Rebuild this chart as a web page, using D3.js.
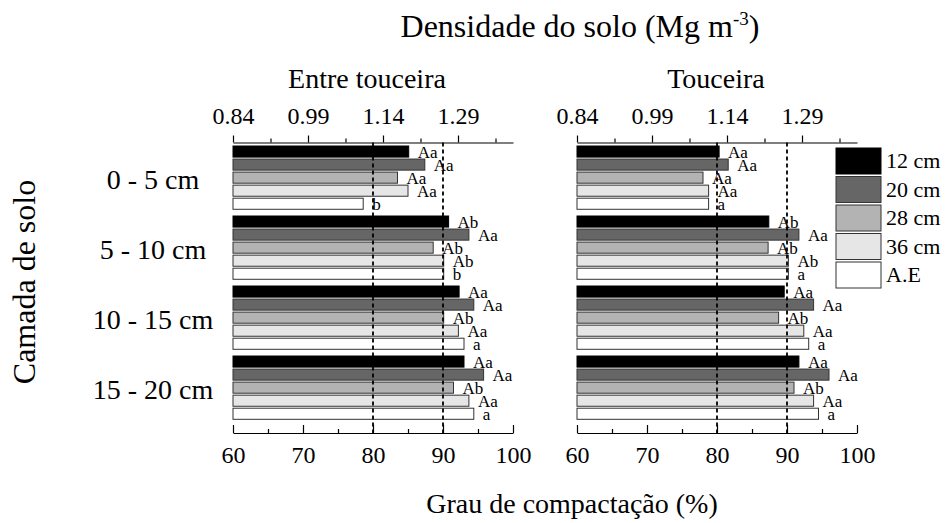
<!DOCTYPE html>
<html>
<head>
<meta charset="utf-8">
<script src="https://cdn.jsdelivr.net/npm/d3@7"></script>
<style>
  body { margin: 0; background: #fff; }
  svg text { font-family: "Liberation Serif", "Times New Roman", serif; fill: #000; }
</style>
</head>
<body>
<div id="chart"></div>
<script>
// camadas de solo e tratamentos
const camadas = ['0 - 5 cm', '5 - 10 cm', '10 - 15 cm', '15 - 20 cm'];
const tratamentos = ['12 cm', '20 cm', '28 cm', '36 cm', 'A.E'];
const cores = ['#000000', '#666666', '#b3b3b3', '#e6e6e6', '#ffffff'];

// grau de compactacao (%) por camada -> tratamento
const gcEntre = [
  [85.1, 87.4, 83.5, 85.0, 78.6],
  [90.8, 93.7, 88.6, 90.1, 90.1],
  [92.3, 94.4, 90.1, 92.2, 93.0],
  [93.0, 95.8, 91.5, 93.7, 94.4]
];
const gcTouceira = [
  [80.3, 81.6, 78.0, 78.8, 78.8],
  [87.4, 91.7, 87.3, 90.2, 90.2],
  [89.6, 93.8, 88.8, 92.4, 93.1],
  [91.7, 96.0, 91.0, 93.8, 94.5]
];
// letras do teste de medias
const letrasEntre = [
  ['Aa', 'Aa', 'Aa', 'Aa', 'b'],
  ['Ab', 'Aa', 'Ab', 'Ab', 'b'],
  ['Aa', 'Aa', 'Ab', 'Aa', 'a'],
  ['Aa', 'Aa', 'Ab', 'Aa', 'a']
];
const letrasTouceira = [
  ['Aa', 'Aa', 'Aa', 'Aa', 'a'],
  ['Ab', 'Aa', 'Ab', 'Ab', 'a'],
  ['Aa', 'Aa', 'Ab', 'Aa', 'a'],
  ['Aa', 'Aa', 'Ab', 'Aa', 'a']
];

const gcTicks = [60, 70, 80, 90, 100];
const gcMinor = [65, 75, 85, 95];
const densTicks = [0.84, 0.99, 1.14, 1.29];
const densMinor = [0.915, 1.065, 1.215, 1.365];
const linhasRef = [80, 90];

const w = 945, h = 523;
const yTop = 142.5, yBottom = 433;

const svg = d3.select('#chart').append('svg')
  .attr('width', w).attr('height', h);

const yGroup = d3.scaleBand().domain(camadas).range([146, 419.3]).paddingInner(0.096);
const yBar = d3.scaleBand().domain(tratamentos).range([0, yGroup.bandwidth()]).paddingInner(0.15);

const drawPanel = (x0, x1, values, letras, titulo, tx) => {
  const x = d3.scaleLinear().domain([60, 100]).range([x0, x1]);
  const xd = d3.scaleLinear().domain([0.84, 1.40]).range([x0, x1]);

  const g = svg.append('g');

  // barras
  camadas.forEach((c, i) => {
    const gg = g.append('g').attr('transform', 'translate(0,' + yGroup(c) + ')');
    gg.selectAll('rect')
      .data(values[i])
      .enter()
      .append('rect')
      .attr('x', x(60))
      .attr('y', (d, j) => yBar(tratamentos[j]))
      .attr('width', d => x(d) - x(60))
      .attr('height', yBar.bandwidth())
      .attr('fill', (d, j) => cores[j])
      .attr('stroke', (d, j) => j == 0 ? '#000' : '#333')
      .attr('stroke-width', 1);
    gg.selectAll('text')
      .data(values[i])
      .enter()
      .append('text')
      .attr('x', d => x(d) + 9)
      .attr('y', (d, j) => yBar(tratamentos[j]) + yBar.bandwidth() + 1)
      .attr('font-size', 17)
      .text((d, j) => letras[i][j]);
  });

  // linhas tracejadas
  g.selectAll('line.ref')
    .data(linhasRef)
    .enter()
    .append('line')
    .attr('class', 'ref')
    .attr('x1', d => x(d)).attr('x2', d => x(d))
    .attr('y1', yTop).attr('y2', yBottom)
    .attr('stroke', '#000')
    .attr('stroke-width', 1.8)
    .attr('stroke-dasharray', '4,3');

  // eixo inferior
  const axB = g.append('g')
    .attr('transform', 'translate(0,' + yBottom + ')')
    .call(d3.axisBottom(x).tickValues(gcTicks).tickSizeInner(-8).tickSizeOuter(0).tickPadding(13));
  g.append('g')
    .attr('transform', 'translate(0,' + yBottom + ')')
    .call(d3.axisBottom(x).tickValues(gcMinor).tickSizeInner(-4).tickSizeOuter(0).tickFormat(''))
    .select('.domain').remove();
  axB.selectAll('text').attr('font-size', 24);

  // eixo superior (densidade)
  const axT = g.append('g')
    .attr('transform', 'translate(0,' + yTop + ')')
    .call(d3.axisTop(xd).tickValues(densTicks).tickSizeInner(7).tickSizeOuter(0).tickPadding(12).tickFormat(d3.format('.2f')));
  g.append('g')
    .attr('transform', 'translate(0,' + yTop + ')')
    .call(d3.axisTop(xd).tickValues(densMinor).tickSizeInner(4).tickSizeOuter(0).tickFormat(''))
    .select('.domain').remove();
  axT.selectAll('text').attr('font-size', 24);

  g.selectAll('.domain, .tick line').attr('stroke', '#000').attr('stroke-width', 1.2);

  g.append('text')
    .attr('x', tx)
    .attr('y', 88)
    .attr('text-anchor', 'middle')
    .attr('font-size', 28)
    .text(titulo);
};

drawPanel(233, 513, gcEntre, letrasEntre, 'Entre touceira', 367);
drawPanel(577, 857, gcTouceira, letrasTouceira, 'Touceira', 716);

// rotulos das camadas
svg.selectAll('text.camada')
  .data(camadas)
  .enter()
  .append('text')
  .attr('class', 'camada')
  .attr('x', 153)
  .attr('y', d => yGroup(d) + yGroup.bandwidth() / 2 + 11)
  .attr('text-anchor', 'middle')
  .attr('font-size', 28)
  .text(d => d);

// legenda
const leg = svg.append('g').attr('transform', 'translate(836,148)');
tratamentos.forEach((t, i) => {
  leg.append('rect')
    .attr('x', 0).attr('y', i * 28.5)
    .attr('width', 45).attr('height', 26)
    .attr('fill', cores[i])
    .attr('stroke', i == 0 ? '#000' : '#333');
  leg.append('text')
    .attr('x', 50).attr('y', i * 28.5 + 20)
    .attr('font-size', 22)
    .text(t);
});

// titulos dos eixos
const tit = svg.append('text')
  .attr('x', 580).attr('y', 37)
  .attr('text-anchor', 'middle')
  .attr('font-size', 32);
tit.append('tspan').text('Densidade do solo (Mg m');
tit.append('tspan').attr('font-size', 19).attr('dy', -12).text('-3');
tit.append('tspan').attr('dy', 12).text(')');

svg.append('text')
  .attr('x', 572).attr('y', 513)
  .attr('text-anchor', 'middle')
  .attr('font-size', 28)
  .text('Grau de compactação (%)');

svg.append('text')
  .attr('transform', 'translate(35,282) rotate(-90)')
  .attr('text-anchor', 'middle')
  .attr('font-size', 32)
  .text('Camada de solo');
</script>
</body>
</html>
